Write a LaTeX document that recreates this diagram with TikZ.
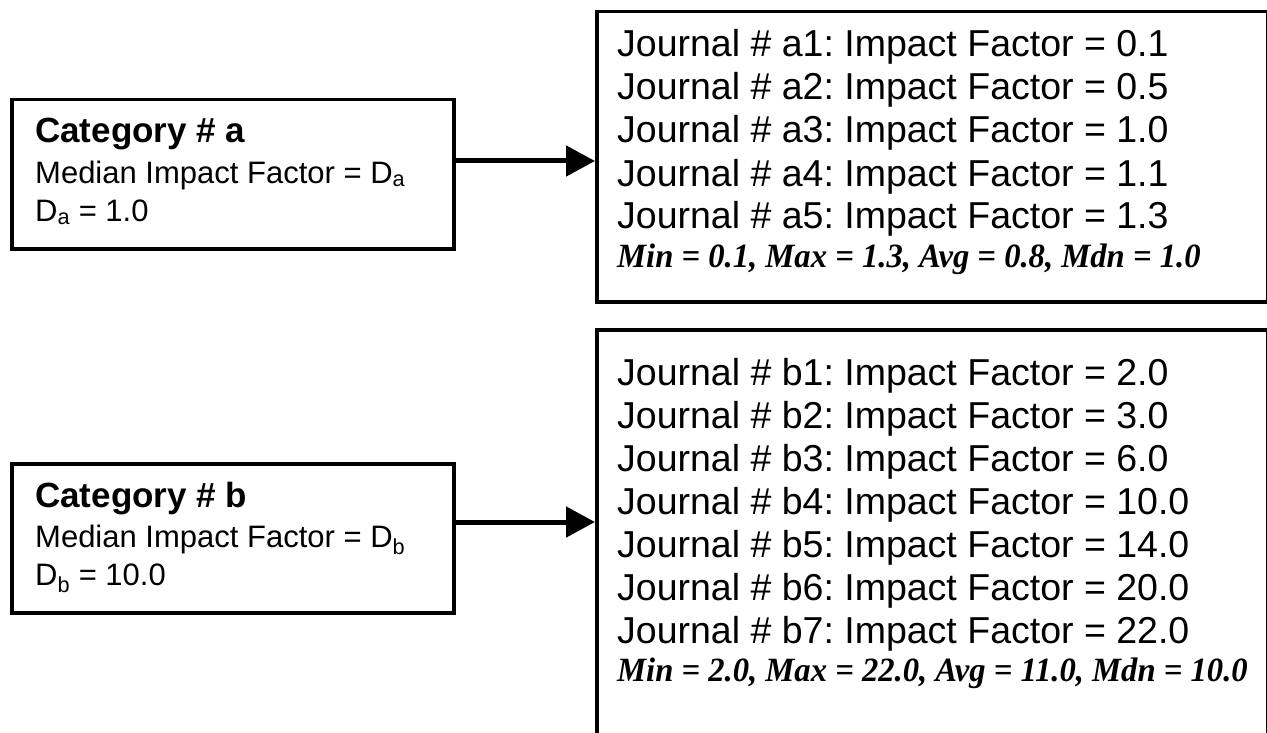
\documentclass[tikz,border=0pt]{standalone}
\usepackage{fontspec}
\setmainfont{Liberation Sans}
\newfontfamily\statfont[FakeStretch=0.96]{Liberation Serif}
\usetikzlibrary{arrows.meta}
\frenchspacing
\begin{document}
\begin{tikzpicture}[x=1pt,y=-1pt,
  box/.style={draw,line width=3.5pt,inner sep=0pt,anchor=north west},
  jline/.style={anchor=base west,inner sep=0pt,font=\fontsize{37.5}{44}\selectfont},
  sline/.style={anchor=base west,inner sep=0pt,font=\statfont\bfseries\itshape\fontsize{34}{40}\selectfont},
  cat/.style={anchor=base west,inner sep=0pt,font=\bfseries\fontsize{35}{40}\selectfont},
  med/.style={anchor=base west,inner sep=0pt,font=\fontsize{31}{37}\selectfont},
  conn/.style={line width=5pt,-{Triangle[length=29pt,width=30pt]}}
]
\useasboundingbox (0,0) rectangle (1267,733);
% left boxes
\node[box,minimum width=442pt,minimum height=149pt] (ca) at (10,98) {};
\node[box,minimum width=442pt,minimum height=149pt] (cb) at (10,462) {};
% right boxes
\node[box,minimum width=671pt,minimum height=290pt] (ja) at (595,10) {};
\node[box,minimum width=671pt,minimum height=500pt] (jb) at (595,328) {};
% left texts
\node[cat] (ca1) at (35,143) {Category \# a};
\node[med] (ca2) at (35,183) {Median Impact Factor = D\textsubscript{a}};
\node[med] (ca3) at (35,221) {D\textsubscript{a} = 1.0};
\node[cat] (cb1) at (35,507) {Category \# b};
\node[med] (cb2) at (35,547) {Median Impact Factor = D\textsubscript{b}};
\node[med] (cb3) at (35,585) {D\textsubscript{b} = 10.0};
% right texts a
\node[jline] (a1) at (617,57) {Journal \# a1: Impact Factor = 0.1};
\node[jline] (a2) at (617,100) {Journal \# a2: Impact Factor = 0.5};
\node[jline] (a3) at (617,143) {Journal \# a3: Impact Factor = 1.0};
\node[jline] (a4) at (617,186) {Journal \# a4: Impact Factor = 1.1};
\node[jline] (a5) at (617,229) {Journal \# a5: Impact Factor = 1.3};
\node[sline] (as) at (617,267) {Min = 0.1, Max = 1.3, Avg = 0.8, Mdn = 1.0};
% right texts b
\node[jline] (b1) at (617,385) {Journal \# b1: Impact Factor = 2.0};
\node[jline] (b2) at (617,428) {Journal \# b2: Impact Factor = 3.0};
\node[jline] (b3) at (617,471) {Journal \# b3: Impact Factor = 6.0};
\node[jline] (b4) at (617,514) {Journal \# b4: Impact Factor = 10.0};
\node[jline] (b5) at (617,557) {Journal \# b5: Impact Factor = 14.0};
\node[jline] (b6) at (617,600) {Journal \# b6: Impact Factor = 20.0};
\node[jline] (b7) at (617,643) {Journal \# b7: Impact Factor = 22.0};
\node[sline] (bs) at (617,681) {Min = 2.0, Max = 22.0, Avg = 11.0, Mdn = 10.0};
% connectors
\coordinate (ay) at (0,161);
\coordinate (by) at (0,522);
\draw[conn] (ca.east |- ay) -- (ja.west |- ay);
\draw[conn] (cb.east |- by) -- (jb.west |- by);
\end{tikzpicture}
\end{document}
